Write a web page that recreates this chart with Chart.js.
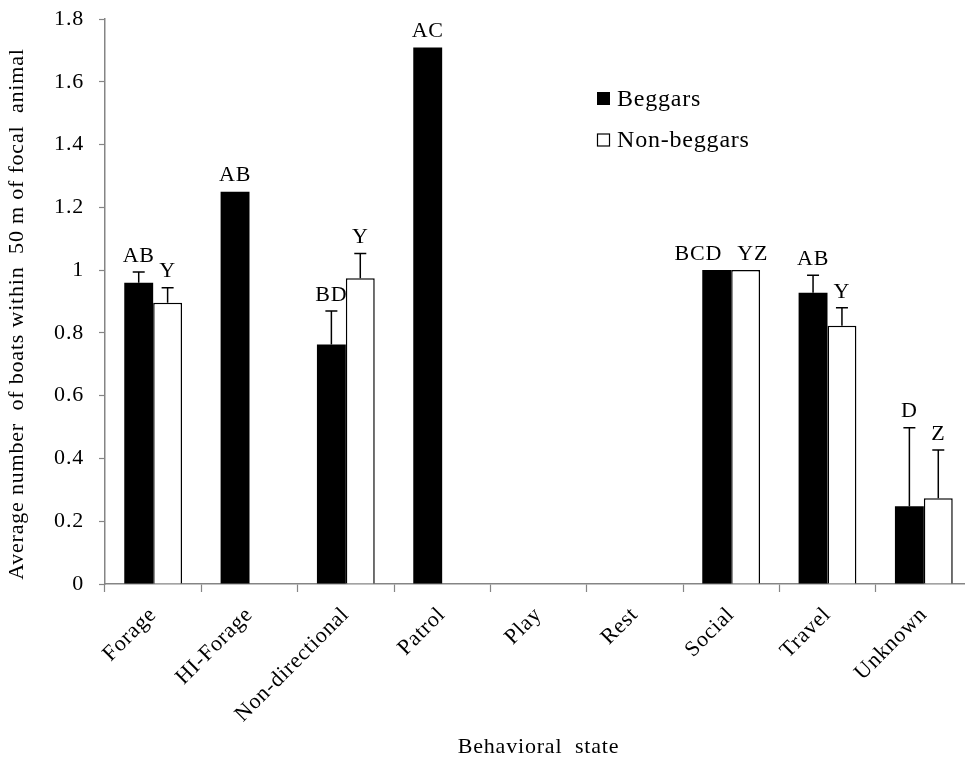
<!DOCTYPE html>
<html>
<head>
<meta charset="utf-8">
<script src="https://cdn.jsdelivr.net/npm/chart.js@4"></script>
<style>
  html, body { margin: 0; padding: 0; background: #fff; overflow: hidden; }
  #wrap { width: 985px; height: 760px; position: relative; }
</style>
</head>
<body>
<div id="wrap"><canvas id="chart"></canvas></div>
<script>
// ---- data ----
const categories = ['Forage', 'HI-Forage', 'Non-directional', 'Patrol', 'Play', 'Rest', 'Social', 'Travel', 'Unknown'];
const beggars     = [0.96, 1.25, 0.763, 1.709, 0, 0, 1.0, 0.928, 0.248];
const beggarsErr  = [0.034, 0, 0.107, 0, 0, 0, 0, 0.056, 0.25];
const nonBeggars    = [0.896, 0, 0.974, 0, 0, 0, 1.0, 0.823, 0.273];
const nonBeggarsErr = [0.048, 0, 0.079, 0, 0, 0, 0, 0.057, 0.154];
const beggarLetters    = ['AB', 'AB', 'BD', 'AC', '', '', 'BCD', 'AB', 'D'];
const nonBeggarLetters = ['Y', '', 'Y', '', '', '', 'YZ', 'Y', 'Z'];
const yTicks = [0, 0.2, 0.4, 0.6, 0.8, 1, 1.2, 1.4, 1.6, 1.8];

const SERIF = "'Liberation Serif', 'Times New Roman', serif";
const AXIS_GRAY = '#858585';
const SPACING = '0.8px';

/* ---------------- slightly wide lettering, as in the source figure ---------------- */
const spacingPlugin = {
    id: 'letterSpacing',
    beforeDraw(chart) { if ('letterSpacing' in chart.ctx) chart.ctx.letterSpacing = SPACING; }
};

/* ---------------- error bars + letters ---------------- */
const errorBarPlugin = {
    id: 'errorBars',
    afterDatasetsDraw(chart) {
        const ctx = chart.ctx;
        const y = chart.scales.y;
        const errs = [beggarsErr, nonBeggarsErr];
        const letters = [beggarLetters, nonBeggarLetters];
        const tops = [[], []];
        ctx.save();
        ctx.strokeStyle = '#000';
        ctx.lineWidth = 1.5;
        chart.data.datasets.forEach((ds, i) => {
            chart.getDatasetMeta(i).data.forEach((bar, j) => {
                const v = ds.data[j];
                const e = errs[i][j];
                let top = bar.y;
                if (e > 0) {
                    top = y.getPixelForValue(v + e);
                    ctx.beginPath();
                    ctx.moveTo(bar.x, bar.y);
                    ctx.lineTo(bar.x, top);
                    ctx.moveTo(bar.x - 6, top);
                    ctx.lineTo(bar.x + 6, top);
                    ctx.stroke();
                }
                tops[i][j] = top;
            });
        });
        // letters above bars; if the pair would touch, move them apart
        ctx.font = '22px ' + SERIF;
        ctx.fillStyle = '#000';
        ctx.textAlign = 'center';
        ctx.textBaseline = 'bottom';
        const m0 = chart.getDatasetMeta(0).data;
        const m1 = chart.getDatasetMeta(1).data;
        categories.forEach((c, j) => {
            const a = letters[0][j], b = letters[1][j];
            let xa = m0[j].x, xb = m1[j].x;
            if (a && b && Math.abs(tops[0][j] - tops[1][j]) < 18) {
                const wa = ctx.measureText(a).width, wb = ctx.measureText(b).width;
                const overlap = (xa + wa / 2) - (xb - wb / 2);
                if (overlap > 0) {
                    const push = overlap + 15;
                    xa -= push * 0.72;
                    xb += push * 0.28;
                }
            }
            if (a) ctx.fillText(a, xa, tops[0][j] - 5);
            if (b) ctx.fillText(b, xb, tops[1][j] - 5);
        });
        ctx.restore();
    }
};

/* ---------------- legend ---------------- */
const legendPlugin = {
    id: 'boxLegend',
    afterDraw(chart) {
        const ctx = chart.ctx;
        const x0 = 597, rows = [98.5, 140];
        ctx.save();
        ctx.font = '24px ' + SERIF;
        ctx.textBaseline = 'middle';
        ctx.textAlign = 'left';
        chart.data.datasets.forEach((ds, i) => {
            const cy = rows[i];
            ctx.fillStyle = ds.backgroundColor;
            ctx.fillRect(x0, cy - 6.5, 13, 13);
            if (ds.borderWidth) {
                ctx.strokeStyle = ds.borderColor;
                ctx.lineWidth = 1.2;
                ctx.strokeRect(x0 + 0.5, cy - 6, 12, 12);
            }
            ctx.fillStyle = '#000';
            ctx.fillText(ds.label, x0 + 20, cy + 1);
        });
        ctx.restore();
    }
};

new Chart(document.getElementById('chart'), {
    type: 'bar',
    data: {
        labels: categories,
        datasets: [
            { label: 'Beggars', data: beggars, backgroundColor: '#000', borderWidth: 0 },
            { label: 'Non-beggars', data: nonBeggars, backgroundColor: '#fff', borderColor: '#000', borderWidth: 1.5 }
        ]
    },
    options: {
        responsive: true,
        maintainAspectRatio: false,
        animation: false,
        layout: { padding: { top: 19, right: 13, left: 0, bottom: 0 } },
        datasets: { bar: { categoryPercentage: 0.6, barPercentage: 1.0 } },
        plugins: { legend: { display: false }, tooltip: { enabled: false } },
        scales: {
            x: {
                grid: { offset: true, drawOnChartArea: false, color: AXIS_GRAY, tickLength: 8, tickWidth: 1.2 },
                border: { color: AXIS_GRAY, width: 1.5 },
                ticks: { color: '#000', font: { family: SERIF, size: 22 }, minRotation: 45, maxRotation: 45, padding: 10 },
                title: { display: true, text: 'Behavioral  state', color: '#000', font: { family: SERIF, size: 22 }, padding: { top: 0, bottom: 0 } },
                afterFit(scale) { scale.height = 176; }
            },
            y: {
                min: 0, max: 1.8,
                afterBuildTicks(scale) { scale.ticks = yTicks.map(v => ({ value: v })); },
                grid: { drawOnChartArea: false, color: AXIS_GRAY, tickLength: 6, tickWidth: 1.2 },
                border: { color: AXIS_GRAY, width: 1.5 },
                ticks: { color: '#000', font: { family: SERIF, size: 22 }, padding: 15,
                         callback: v => String(Math.round(v * 10) / 10) },
                title: { display: true, text: 'Average number  of boats within  50 m of focal  animal    ', color: '#000',
                         font: { family: SERIF, size: 22 }, padding: { top: 4, bottom: 0 } },
                afterFit(scale) {
                    scale.width = 105;
                    // the top label may overhang the plot; keep the plot top where the figure has it
                    scale.paddingTop = 0;
                    scale.paddingBottom = 0;
                }
            }
        }
    },
    plugins: [spacingPlugin, errorBarPlugin, legendPlugin]
});
</script>
</body>
</html>
